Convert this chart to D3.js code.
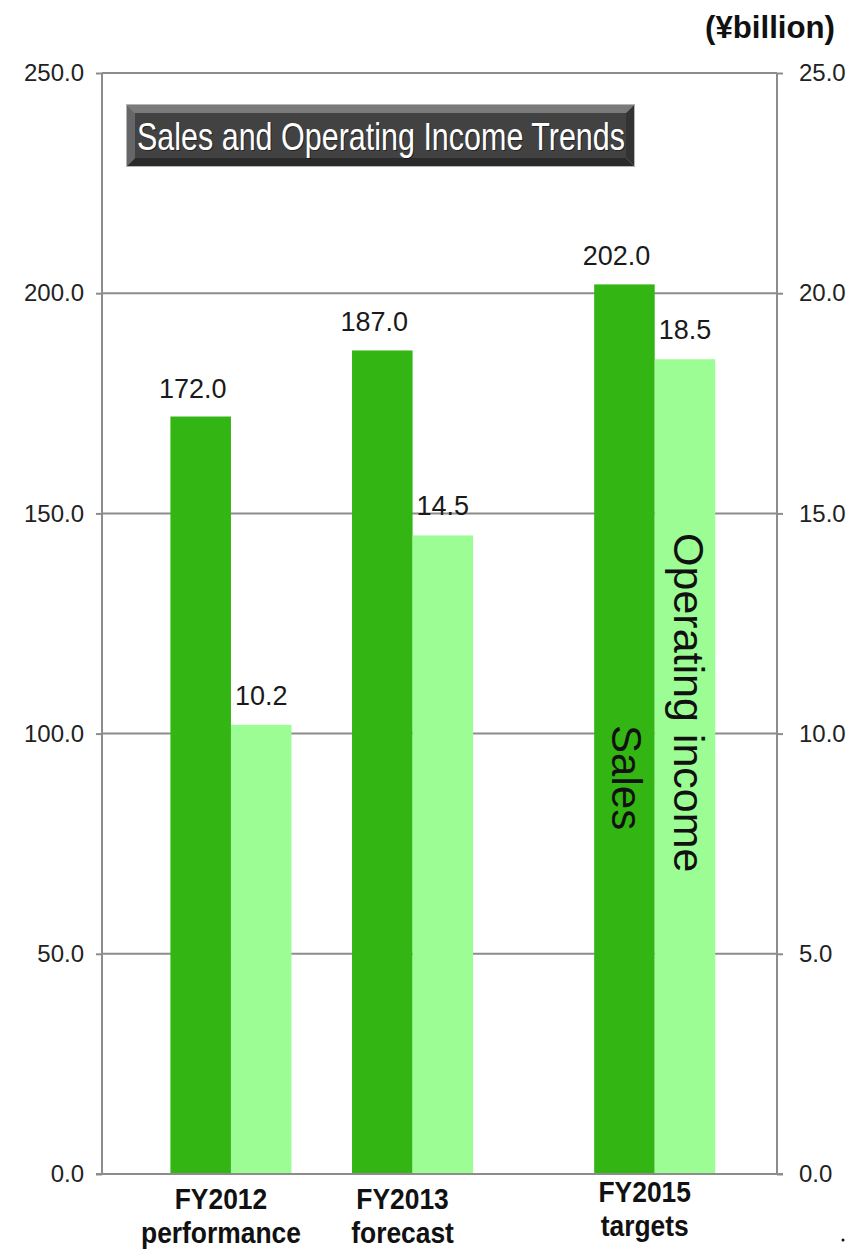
<!DOCTYPE html>
<html>
<head>
<meta charset="utf-8">
<script src="https://cdn.jsdelivr.net/npm/d3@7"></script>
<style>
  html, body { margin: 0; padding: 0; background: #fff; }
  svg { display: block; }
</style>
</head>
<body>
<svg id="chart" width="848" height="1249"></svg>
<script>
// ---- data ----
const periods = ["FY2012", "FY2013", "FY2015"];
const periodNotes = ["performance", "forecast", "targets"];
const sales = [172.0, 187.0, 202.0];            // left axis, ¥billion
const operatingIncome = [10.2, 14.5, 18.5];     // right axis, ¥billion
const salesTicks = [0, 50, 100, 150, 200, 250];
const incomeTicks = [0, 5, 10, 15, 20, 25];
// column slots for each period (FY2014 is skipped, leaving a wider gap)
const periodSlots = [0, 3, 7];

// ---- layout ----
const plot = { left: 102, right: 777, top: 73, bottom: 1174 };
const svg = d3.select("#chart");
const gridColor = "#8c8c8c";
const salesColor = "#33b513";
const incomeColor = "#9dfd95";
const sans = "'Liberation Sans', Arial, 'Noto Sans', sans-serif";
const narrowX = 0.83;   // horizontal squeeze for the condensed labels

const ySales = d3.scaleLinear().domain([0, 250]).range([plot.bottom, plot.top]);
const yIncome = d3.scaleLinear().domain([0, 25]).range([plot.bottom, plot.top]);
// x: one slot equals one bar width
const x = d3.scaleLinear().domain([-2.13, 9.02]).range([plot.left, plot.right]);
const barW = x(1) - x(0);

// condensed text: squeeze horizontally around its anchor point
function narrowText(g, px, py, str, opts) {
  const t = g.append("text")
    .attr("transform", `translate(${px},${py}) scale(${opts.sx || narrowX},1)`)
    .attr("text-anchor", opts.anchor || "middle")
    .style("font-family", sans)
    .style("font-size", opts.size + "px")
    .style("font-weight", opts.weight || "normal")
    .attr("fill", opts.fill || "#111")
    .text(str);
  if (opts.width) {
    t.attr("textLength", opts.width / (opts.sx || narrowX)).attr("lengthAdjust", "spacingAndGlyphs");
  }
  return t;
}

// ---- grid & axes ----
const grid = svg.append("g");
grid.selectAll("line.h").data(salesTicks.filter(t => t > 0)).join("line")
  .attr("x1", plot.left).attr("x2", plot.right)
  .attr("y1", d => ySales(d)).attr("y2", d => ySales(d))
  .attr("stroke", gridColor).attr("stroke-width", 2);

const leftAxis = d3.axisLeft(ySales).tickValues(salesTicks)
  .tickFormat(d3.format(".1f")).tickSize(6).tickPadding(12);
const rightAxis = d3.axisRight(yIncome).tickValues(incomeTicks)
  .tickFormat(d3.format(".1f")).tickSize(6).tickPadding(16);

function styleAxis(g) {
  g.select(".domain").remove();
  g.selectAll(".tick line").attr("stroke", gridColor).attr("stroke-width", 2);
  g.selectAll(".tick text").attr("fill", "#222")
    .style("font-family", sans).style("font-size", "24px");
}
svg.append("g").attr("transform", `translate(${plot.left},0)`).call(leftAxis).call(styleAxis);
svg.append("g").attr("transform", `translate(${plot.right},0)`).call(rightAxis).call(styleAxis);

// frame lines: left and right
svg.append("line").attr("x1", plot.left).attr("x2", plot.left)
  .attr("y1", plot.top).attr("y2", plot.bottom).attr("stroke", gridColor).attr("stroke-width", 2);
svg.append("line").attr("x1", plot.right).attr("x2", plot.right)
  .attr("y1", plot.top).attr("y2", plot.bottom).attr("stroke", gridColor).attr("stroke-width", 2);

// ---- bars ----
const rows = periods.map((p, i) => ({
  period: p, note: periodNotes[i], slot: periodSlots[i],
  sales: sales[i], income: operatingIncome[i]
}));

const bars = svg.append("g");
bars.selectAll("rect.sales").data(rows).join("rect")
  .attr("x", d => x(d.slot - 1)).attr("width", barW)
  .attr("y", d => ySales(d.sales)).attr("height", d => plot.bottom - ySales(d.sales))
  .attr("fill", salesColor);
bars.selectAll("rect.income").data(rows).join("rect")
  .attr("x", d => x(d.slot)).attr("width", barW)
  .attr("y", d => yIncome(d.income)).attr("height", d => plot.bottom - yIncome(d.income))
  .attr("fill", incomeColor);

// baseline
svg.append("line").attr("x1", plot.left - 6).attr("x2", plot.right + 6)
  .attr("y1", plot.bottom).attr("y2", plot.bottom).attr("stroke", gridColor).attr("stroke-width", 2);

// ---- value labels ----
const vl = svg.append("g").style("font-family", sans).style("font-size", "27px").attr("fill", "#1a1a1a");
vl.selectAll("text.s").data(rows).join("text")
  .attr("x", d => x(d.slot - 0.5) - 8).attr("y", d => ySales(d.sales) - 19)
  .attr("text-anchor", "middle").text(d => d.sales.toFixed(1));
vl.selectAll("text.i").data(rows).join("text")
  .attr("x", d => x(d.slot) + 4).attr("y", d => yIncome(d.income) - 20)
  .attr("text-anchor", "start").text(d => d.income.toFixed(1));

// ---- series names written inside the last pair of bars ----
const last = rows[rows.length - 1];
svg.append("text")
  .attr("transform", `translate(${x(last.slot - 0.5) - 12},${ySales(90)}) rotate(90)`)
  .attr("text-anchor", "middle")
  .style("font-family", sans).style("font-size", "42px").attr("fill", "#111")
  .text("Sales");
svg.append("text")
  .attr("transform", `translate(${x(last.slot + 0.5) - 11},${yIncome(10.7)}) rotate(90)`)
  .attr("text-anchor", "middle")
  .style("font-family", sans).style("font-size", "43px").attr("fill", "#111")
  .text("Operating income");

// ---- category labels ----
const cl = svg.append("g");
rows.forEach((d, i) => {
  const lift = i === rows.length - 1 ? 7 : 0;
  narrowText(cl, x(d.slot) - 10, 1209 - lift, d.period, { size: 30, weight: "bold", sx: 0.88 });
  narrowText(cl, x(d.slot) - 10, 1243 - lift, d.note, { size: 30, weight: "bold", sx: 0.88 });
});

// ---- unit label ----
narrowText(svg, 835, 38, "(¥billion)", { size: 31, weight: "bold", anchor: "end", width: 130, sx: 0.9 });

// small mark at lower right
svg.append("circle").attr("cx", 843).attr("cy", 1240).attr("r", 1.5).attr("fill", "#111");

// ---- bevelled title box ----
const tb = { x: 127, y: 105, w: 507, h: 61, b: 8 };
const title = svg.append("g");
title.append("rect").attr("x", tb.x - 1).attr("y", tb.y - 1).attr("width", tb.w + 2).attr("height", tb.h + 2)
  .attr("fill", "#b5b5b5");
const X0 = tb.x, Y0 = tb.y, X1 = tb.x + tb.w, Y1 = tb.y + tb.h, b = tb.b;
const facets = [
  { pts: [[X0, Y0], [X1, Y0], [X1 - b, Y0 + b], [X0 + b, Y0 + b]], fill: "#7a7a7a" },
  { pts: [[X0, Y0], [X0 + b, Y0 + b], [X0 + b, Y1 - b], [X0, Y1]], fill: "#666" },
  { pts: [[X0, Y1], [X0 + b, Y1 - b], [X1 - b, Y1 - b], [X1, Y1]], fill: "#2a2a2a" },
  { pts: [[X1, Y0], [X1, Y1], [X1 - b, Y1 - b], [X1 - b, Y0 + b]], fill: "#333" }
];
title.selectAll("polygon").data(facets).join("polygon")
  .attr("points", d => d.pts.map(p => p.join(",")).join(" "))
  .attr("fill", d => d.fill);
title.append("rect").attr("x", X0 + b).attr("y", Y0 + b).attr("width", tb.w - 2 * b).attr("height", tb.h - 2 * b)
  .attr("fill", "#424242");
narrowText(title, tb.x + 10 + 1, tb.y + 46, "Sales and Operating Income Trends",
  { size: 39, anchor: "start", width: 488, fill: "#000" }).attr("opacity", 0.45);
narrowText(title, tb.x + 10, tb.y + 45, "Sales and Operating Income Trends",
  { size: 39, anchor: "start", width: 488, fill: "#fff" });
</script>
</body>
</html>
